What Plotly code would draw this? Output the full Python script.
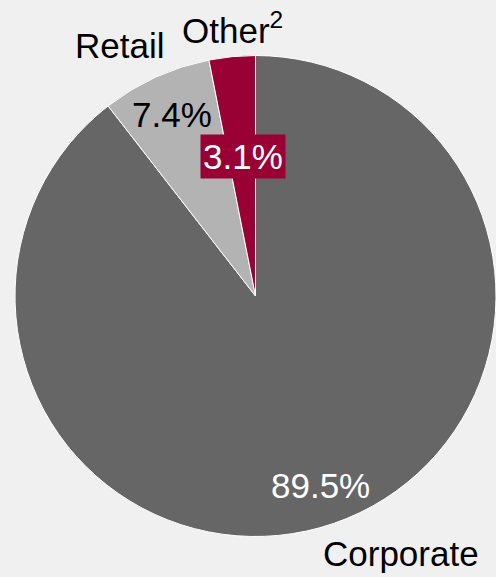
import plotly.graph_objects as go

# Portfolio split by segment
segments = ["Corporate", "Retail", "Other"]
shares = [89.5, 7.4, 3.1]
segment_labels = ["Corporate", "Retail", "Other<sup>2</sup>"]
slice_colors = ["#666666", "#b3b3b3", "#990033"]

W, H = 496, 577
FONT = "Liberation Sans, Arial, sans-serif"
FS = 35

fig = go.Figure(
    go.Pie(
        labels=segments,
        values=shares,
        sort=False,
        direction="clockwise",
        rotation=0,
        marker=dict(colors=slice_colors, line=dict(color="#ffffff", width=1)),
        textinfo="none",
        hoverinfo="label+percent",
        showlegend=False,
        domain=dict(x=[15 / W, 1.0], y=[40.5 / H, 521.5 / H]),
    )
)


def px(x, y):
    return x / W, 1 - y / H


# label text placement (pixel centres)
label_pos = {"Corporate": (401, 553), "Retail": (119, 45), "Other": (232, 28)}
pct_pos = {"Corporate": (320, 485), "Retail": (172, 114), "Other": (243, 157)}
pct_color = {"Corporate": "#ffffff", "Retail": "#000000", "Other": "#ffffff"}

annotations = []
for seg, lab, val in zip(segments, segment_labels, shares):
    lx, ly = px(*label_pos[seg])
    annotations.append(dict(
        x=lx, y=ly, xref="paper", yref="paper", text=lab, showarrow=False,
        xanchor="center", yanchor="middle",
        font=dict(family=FONT, size=FS, color="#000000"),
    ))
    tx, ty = px(*pct_pos[seg])
    ann = dict(
        x=tx, y=ty, xref="paper", yref="paper", text=f"{val:.1f}%", showarrow=False,
        xanchor="center", yanchor="middle",
        font=dict(family=FONT, size=FS, color=pct_color[seg]),
    )
    if seg == "Other":
        ann.update(bgcolor="#990033", borderpad=2)
    annotations.append(ann)

fig.update_layout(
    width=W, height=H,
    margin=dict(l=0, r=0, t=0, b=0),
    paper_bgcolor="#f0f0f0",
    plot_bgcolor="#f0f0f0",
    annotations=annotations,
)

fig.write_html("out.html")
